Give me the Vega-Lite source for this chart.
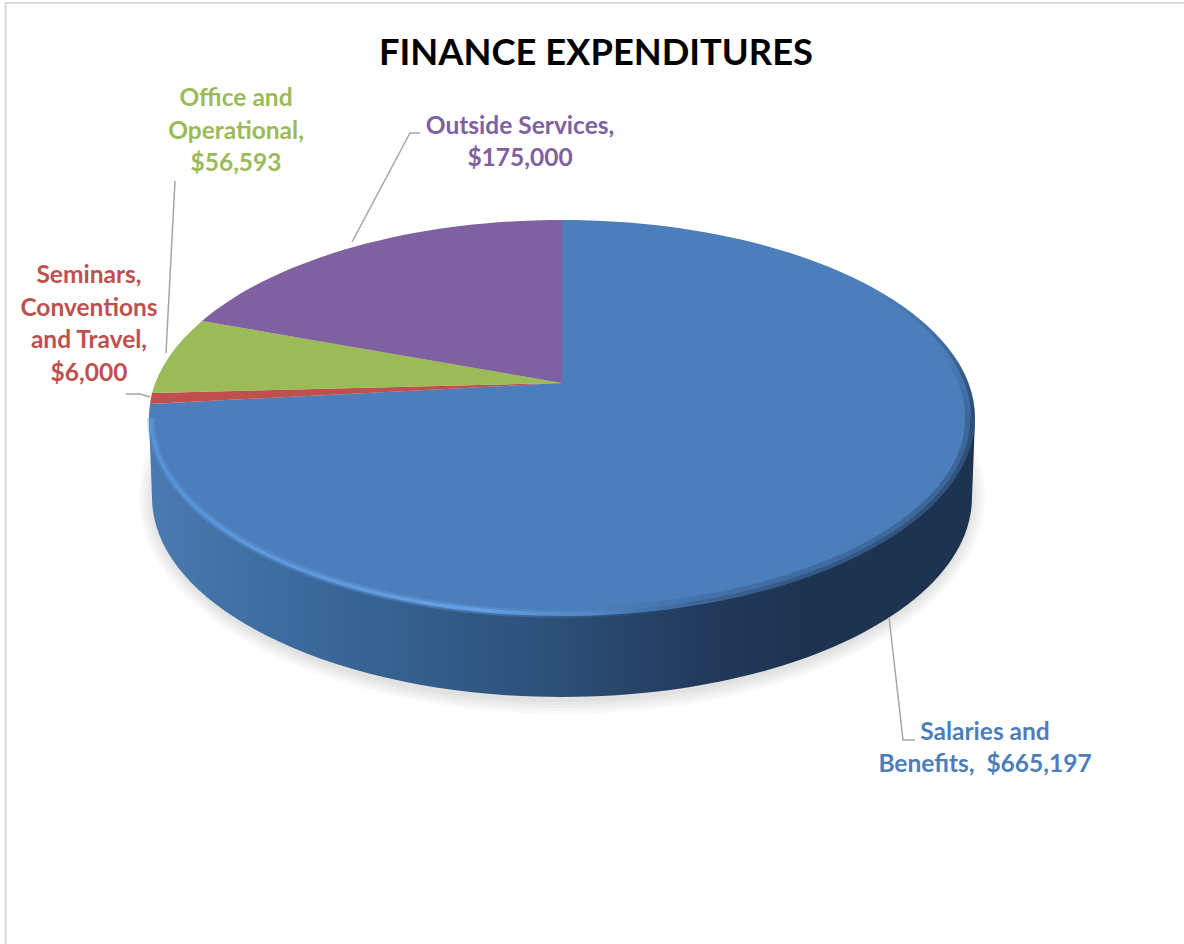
{
"$schema":"https://vega.github.io/schema/vega-lite/v6.json",
"width":1184,"height":944,"padding":0,"autosize":"none","background":"white",
"config":{"view":{"stroke":null}},
"title":{"text":"FINANCE EXPENDITURES","font":"Lato","fontSize":36.3,"fontWeight":"bold","color":"#000000","anchor":"middle","offset":0,"dx":4,"dy":102,"baseline":"alphabetic"},
"data":{"values":[
{"category":"Salaries and Benefits","amount":665197,"label":"Salaries and\nBenefits,\u00a0 $665,197"},
{"category":"Seminars, Conventions and Travel","amount":6000,"label":"Seminars,\nConventions\nand Travel,\n$6,000"},
{"category":"Office and Operational","amount":56593,"label":"Office and\nOperational,\n$56,593"},
{"category":"Outside Services","amount":175000,"label":"Outside Services,\n$175,000"}
]},
"resolve":{"scale":{"shape":"independent"}},
"layer":[
{"transform":[{"filter":"datum.amount===665197"}],"mark":{"type":"point","size":4,"opacity":1,"filled":false,"fill":"transparent","stroke":"#d9d9d9","strokeWidth":2,"shape":"M -586.5 472 L -586.5 -469 L 592 -469"}},
{"transform":[{"filter":"datum.amount===665197"}],"mark":{"type":"point","size":4,"opacity":0.025,"filled":true,"color":"#000000","shape":"M -453 25 A 423 217 0 1 0 393 25 A 423 217 0 1 0 -453 25 Z"}},
{"transform":[{"filter":"datum.amount===665197"}],"mark":{"type":"point","size":4,"opacity":0.025,"filled":true,"color":"#000000","shape":"M -450 25 A 420 214 0 1 0 390 25 A 420 214 0 1 0 -450 25 Z"}},
{"transform":[{"filter":"datum.amount===665197"}],"mark":{"type":"point","size":4,"opacity":0.025,"filled":true,"color":"#000000","shape":"M -447 25 A 417 211 0 1 0 387 25 A 417 211 0 1 0 -447 25 Z"}},
{"transform":[{"filter":"datum.amount===665197"}],"mark":{"type":"point","size":4,"opacity":0.025,"filled":true,"color":"#000000","shape":"M -444 25 A 414 208 0 1 0 384 25 A 414 208 0 1 0 -444 25 Z"}},
{"transform":[{"filter":"datum.amount===665197"}],"mark":{"type":"point","size":4,"opacity":0.025,"filled":true,"color":"#000000","shape":"M -441 25 A 411 205 0 1 0 381 25 A 411 205 0 1 0 -441 25 Z"}},
{"transform":[{"filter":"datum.amount===665197"}],"mark":{"type":"point","size":4,"opacity":1,"filled":true,"shape":"M -443 -52 L -440 25 A 410 200 0 0 0 380 25 L 383 -52 Z",
 "color":{"gradient":"linear","x1":0,"y1":0,"x2":1,"y2":0,"stops":[{"offset":0,"color":"#4a7ab0"},{"offset":0.12,"color":"#3f6fa3"},{"offset":0.3,"color":"#35608f"},{"offset":0.5,"color":"#2c4f77"},{"offset":0.67,"color":"#223a5c"},{"offset":0.8,"color":"#1d3350"},{"offset":1,"color":"#1d3350"}]}}},
{"mark":{"type":"point","size":4,"opacity":1,"filled":true},
 "encoding":{
  "shape":{"field":"category","type":"nominal","legend":null,"scale":{"domain":["Salaries and Benefits","Seminars, Conventions and Travel","Office and Operational","Outside Services"],"range":["M -30 -89 L -30 -252 A 413 198 0 1 1 -442 -68 Z","M -30 -89 L -442 -68 A 413 198 0 0 1 -440 -79 Z","M -30 -89 L -440 -79 A 413 198 0 0 1 -390 -151 Z","M -30 -89 L -390 -151 A 413 198 0 0 1 -30 -252 Z"]}},
  "color":{"field":"category","type":"nominal","legend":null,"scale":{"domain":["Salaries and Benefits","Seminars, Conventions and Travel","Office and Operational","Outside Services"],"range":["#4b7eba","#c0504d","#9bbb59","#7f60a0"]}}}},
{"transform":[{"filter":"datum.amount===665197"}],"mark":{"type":"point","size":4,"opacity":0.35,"filled":false,"fill":"transparent","strokeWidth":8,"shape":"M -441 -54 A 411 196 0 0 0 108 130.6",
 "stroke":{"gradient":"linear","x1":0,"y1":0,"x2":1,"y2":0,"stops":[{"offset":0,"color":"rgba(90,151,219,1)"},{"offset":0.6,"color":"rgba(106,166,234,1)"},{"offset":1,"color":"rgba(75,126,186,0)"}]}}},
{"transform":[{"filter":"datum.amount===665197"}],"mark":{"type":"point","size":4,"opacity":0.8,"filled":false,"fill":"transparent","strokeWidth":3.5,"shape":"M -441 -54 A 411 196 0 0 0 108 130.6",
 "stroke":{"gradient":"linear","x1":0,"y1":0,"x2":1,"y2":0,"stops":[{"offset":0,"color":"rgba(90,151,219,1)"},{"offset":0.6,"color":"rgba(106,166,234,1)"},{"offset":1,"color":"rgba(75,126,186,0)"}]}}},
{"transform":[{"filter":"datum.amount===665197"}],"mark":{"type":"point","size":4,"opacity":0.3,"filled":false,"fill":"transparent","strokeWidth":10,"shape":"M 8 139 A 408 193 0 0 0 378 -54",
 "stroke":{"gradient":"linear","x1":0,"y1":0,"x2":1,"y2":0,"stops":[{"offset":0,"color":"rgba(29,51,80,0)"},{"offset":0.4,"color":"rgba(29,51,80,0.7)"},{"offset":1,"color":"rgba(29,51,80,1)"}]}}},
{"transform":[{"filter":"datum.amount===665197"}],"mark":{"type":"point","size":4,"opacity":0.4,"filled":false,"fill":"transparent","strokeWidth":5,"shape":"M 8 141.5 A 410.5 195.5 0 0 0 380.5 -54",
 "stroke":{"gradient":"linear","x1":0,"y1":0,"x2":1,"y2":0,"stops":[{"offset":0,"color":"rgba(29,51,80,0)"},{"offset":0.4,"color":"rgba(29,51,80,0.7)"},{"offset":1,"color":"rgba(29,51,80,1)"}]}}},
{"transform":[{"filter":"datum.amount===665197"}],"mark":{"type":"point","size":4,"opacity":0.3,"filled":false,"fill":"transparent","strokeWidth":10,"shape":"M 378 -54 A 408 193 0 0 0 354 -120",
 "stroke":{"gradient":"linear","x1":0,"y1":1,"x2":0,"y2":0,"stops":[{"offset":0,"color":"rgba(29,51,80,1)"},{"offset":1,"color":"rgba(29,51,80,0)"}]}}},
{"transform":[{"filter":"datum.amount===665197"}],"mark":{"type":"point","size":4,"opacity":0.55,"filled":false,"fill":"transparent","strokeWidth":3.5,"shape":"M 381 -54 A 411 196 0 0 0 288 -178",
 "stroke":{"gradient":"linear","x1":0,"y1":1,"x2":0,"y2":0,"stops":[{"offset":0,"color":"rgba(29,51,80,1)"},{"offset":1,"color":"rgba(29,51,80,0)"}]}}},
{"mark":{"type":"point","size":4,"opacity":1,"filled":false,"fill":"transparent","stroke":"#a6a6a6","strokeWidth":1.5},
 "encoding":{"shape":{"field":"category","type":"nominal","legend":null,"scale":{"domain":["Salaries and Benefits","Seminars, Conventions and Travel","Office and Operational","Outside Services"],"range":["M 297 145 L 311 268 L 323 268","M -442 -75 L -452 -78 L -466 -78","M -426 -119 L -417 -291","M -240 -230 L -182 -339 L -172 -339"]}}}},
{"transform":[{"filter":"datum.amount===665197"}],"mark":{"type":"text","font":"Lato","fontWeight":"bold","fontSize":24.5,"lineHeight":32,"lineBreak":"\n","align":"center","baseline":"middle","xOffset":393,"yOffset":261},
 "encoding":{"text":{"field":"label"},"color":{"field":"category","type":"nominal","legend":null}}},
{"transform":[{"filter":"datum.amount===6000"}],"mark":{"type":"text","font":"Lato","fontWeight":"bold","fontSize":24.5,"lineHeight":32.5,"lineBreak":"\n","align":"center","baseline":"middle","xOffset":-503,"yOffset":-196},
 "encoding":{"text":{"field":"label"},"color":{"field":"category","type":"nominal","legend":null}}},
{"transform":[{"filter":"datum.amount===56593"}],"mark":{"type":"text","font":"Lato","fontWeight":"bold","fontSize":24.5,"lineHeight":32.5,"lineBreak":"\n","align":"center","baseline":"middle","xOffset":-356,"yOffset":-373},
 "encoding":{"text":{"field":"label"},"color":{"field":"category","type":"nominal","legend":null}}},
{"transform":[{"filter":"datum.amount===175000"}],"mark":{"type":"text","font":"Lato","fontWeight":"bold","fontSize":24.5,"lineHeight":32,"lineBreak":"\n","align":"center","baseline":"middle","xOffset":-72,"yOffset":-345},
 "encoding":{"text":{"field":"label"},"color":{"field":"category","type":"nominal","legend":null}}}
]
}
